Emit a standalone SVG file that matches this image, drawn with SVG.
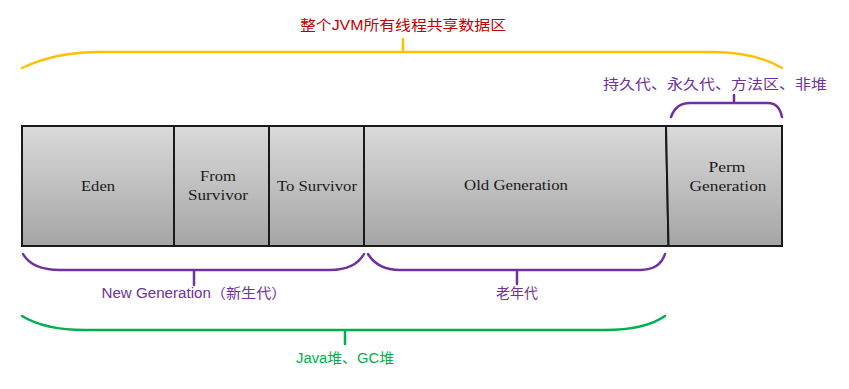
<svg xmlns="http://www.w3.org/2000/svg" width="849" height="389" viewBox="0 0 849 389">
<defs>
<linearGradient id="g" x1="0" y1="0" x2="0" y2="1">
<stop offset="0" stop-color="#dadada"/>
<stop offset="1" stop-color="#a5a5a5"/>
</linearGradient>
</defs>
<style>
.cell{fill:url(#g);stroke:#1a1a1a;stroke-width:2}
.lbl{font-family:"Liberation Serif","DejaVu Serif",serif;font-size:15px;fill:#1a1a1a;text-anchor:middle}
.br{fill:none;stroke-width:2.5;stroke-linecap:round}
.t{font-family:"Liberation Sans","Noto Sans CJK SC",sans-serif;font-size:14px;text-anchor:middle}
</style>
<rect width="849" height="389" fill="#fff"/>
<g id="heap">
<g id="eden"><rect class="cell" x="22" y="126" width="152" height="120"/><text class="lbl" x="98" y="191" textLength="34" lengthAdjust="spacingAndGlyphs">Eden</text></g>
<g id="from"><rect class="cell" x="174" y="126" width="95" height="120"/><text class="lbl" x="218" y="181" textLength="36" lengthAdjust="spacingAndGlyphs">From</text><text class="lbl" x="218" y="200" textLength="60" lengthAdjust="spacingAndGlyphs">Survivor</text></g>
<g id="to"><rect class="cell" x="269" y="126" width="95" height="120"/><text class="lbl" x="317" y="191" textLength="80" lengthAdjust="spacingAndGlyphs">To Survivor</text></g>
<g id="old"><polygon class="cell" points="364,126 666,126 668.5,246 364,246"/><text class="lbl" x="516" y="190" textLength="104" lengthAdjust="spacingAndGlyphs">Old Generation</text></g>
<g id="perm"><polygon class="cell" points="666,126 782,126 782,246 668.5,246"/><text class="lbl" x="727" y="172" textLength="37" lengthAdjust="spacingAndGlyphs">Perm</text><text class="lbl" x="728" y="191" textLength="77" lengthAdjust="spacingAndGlyphs">Generation</text></g>
</g>
<g id="connectors">
<path class="br" stroke="#ffc000" d="M22,68 Q55,52 100,52 L712,52 Q755,52 782,68 M403,52 L403,39"/>
<path class="br" stroke="#7030a0" d="M671,117 Q676,103 690,103 L768,103 Q779,103 782,117 M734,103 L734,95"/>
<path class="br" stroke="#7030a0" d="M23,254 Q32,270 60,270 L330,270 Q355,270 364,254 M194,270 L194,285"/>
<path class="br" stroke="#7030a0" d="M368,254 Q378,270 400,270 L640,270 Q660,270 665,254 M517,270 L517,284"/>
<path class="br" stroke="#00b050" d="M22,316 Q45,330 85,330 L605,330 Q645,330 665,316 M345,330 L345,344"/>
</g>
<g id="labels">
<text class="t" x="403" y="30" fill="#c00000" font-size="16" textLength="206" lengthAdjust="spacingAndGlyphs">整个JVM所有线程共享数据区</text>
<text class="t" x="715" y="89" fill="#7030a0" font-size="15" textLength="224" lengthAdjust="spacingAndGlyphs">持久代、永久代、方法区、非堆</text>
<text class="t" x="194" y="298" fill="#7030a0" textLength="185" lengthAdjust="spacingAndGlyphs">New Generation（新生代）</text>
<text class="t" x="517" y="298" fill="#7030a0">老年代</text>
<text class="t" x="345" y="363" fill="#00b050" textLength="98" lengthAdjust="spacingAndGlyphs">Java堆、GC堆</text>
</g>
</svg>
